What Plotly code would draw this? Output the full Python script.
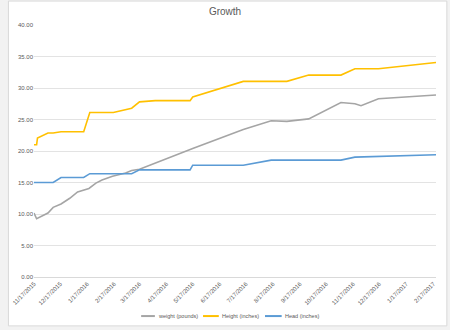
import plotly.graph_objects as go

# Measurement dates and values for each series
weight_dates = ["2015-11-17", "2015-11-20", "2015-12-03", "2015-12-09", "2015-12-18",
                "2015-12-28", "2016-01-06", "2016-01-13", "2016-01-19", "2016-01-27",
                "2016-02-03", "2016-02-15", "2016-03-01", "2016-03-08", "2016-03-17",
                "2016-05-17", "2016-07-14", "2016-08-15", "2016-09-02", "2016-09-27",
                "2016-10-14", "2016-11-03", "2016-11-19", "2016-11-26", "2016-12-16",
                "2017-02-20"]
weight_pounds = [10.15, 9.25, 10.15, 11.05, 11.6,
                 12.5, 13.5, 13.86, 14.06, 14.9,
                 15.4, 16.0, 16.5, 16.9, 17.1,
                 20.4, 23.4, 24.8, 24.7, 25.1,
                 26.3, 27.7, 27.5, 27.2, 28.3,
                 28.9]

height_dates = ["2015-11-17", "2015-11-20", "2015-11-21", "2015-12-03", "2015-12-09",
                "2015-12-18", "2016-01-13", "2016-01-20", "2016-02-16", "2016-03-08",
                "2016-03-17", "2016-04-04", "2016-05-14", "2016-05-17", "2016-07-14",
                "2016-09-02", "2016-09-27", "2016-11-03", "2016-11-19", "2016-12-16",
                "2017-02-20"]
height_inches = [21.0, 21.0, 22.06, 22.86, 22.86,
                 23.06, 23.06, 26.1, 26.1, 26.8,
                 27.8, 28.0, 28.0, 28.57, 31.05,
                 31.05, 32.05, 32.05, 33.05, 33.05,
                 34.05]

head_dates = ["2015-11-17", "2015-12-09", "2015-12-18", "2016-01-13", "2016-01-20",
              "2016-03-08", "2016-03-17", "2016-05-14", "2016-05-17", "2016-07-14",
              "2016-08-15", "2016-11-03", "2016-11-19", "2017-02-20"]
head_inches = [15.0, 15.0, 15.8, 15.8, 16.4,
               16.4, 17.0, 17.0, 17.75, 17.75,
               18.55, 18.55, 19.02, 19.4]

tick_dates = ["2015-11-17", "2015-12-17", "2016-01-17", "2016-02-17", "2016-03-17",
              "2016-04-17", "2016-05-17", "2016-06-17", "2016-07-17", "2016-08-17",
              "2016-09-17", "2016-10-17", "2016-11-17", "2016-12-17", "2017-01-17",
              "2017-02-17"]
tick_labels = ["11/17/2015", "12/17/2015", "1/17/2016", "2/17/2016", "3/17/2016",
               "4/17/2016", "5/17/2016", "6/17/2016", "7/17/2016", "8/17/2016",
               "9/17/2016", "10/17/2016", "11/17/2016", "12/17/2016", "1/17/2017",
               "2/17/2017"]
y_ticks = [0, 5, 10, 15, 20, 25, 30, 35, 40]

series_names = ["weight (pounds)", "Height (inches)", "Head (inches)"]
series_colors = ["#A5A5A5", "#FFC000", "#5B9BD5"]

FONT = "Liberation Sans"
TEXT = "#595959"

fig = go.Figure()
for dates, vals, name, color in zip([weight_dates, height_dates, head_dates],
                                    [weight_pounds, height_inches, head_inches],
                                    series_names, series_colors):
    fig.add_trace(go.Scatter(x=dates, y=vals, mode="lines", name=name,
                             line=dict(color=color, width=1.6), showlegend=False))

# chart-area frame (paper coords relative to the plot area)
fig.add_shape(type="rect", xref="paper", yref="paper",
              x0=-0.0636, x1=1.027, y0=-0.194, y1=1.095,
              fillcolor="white", line=dict(color="#d9d9d9", width=1), layer="below")

# compact legend row under the axis labels
legend_y = -0.155
legend_keys = [(0.2665, 0.3007), (0.4205, 0.4597), (0.5746, 0.6161)]
for (k0, k1), name, color in zip(legend_keys, series_names, series_colors):
    fig.add_shape(type="line", xref="paper", yref="paper",
                  x0=k0, x1=k1, y0=legend_y, y1=legend_y,
                  line=dict(color=color, width=2))
    fig.add_annotation(xref="paper", yref="paper", x=k1 + 0.004, y=legend_y,
                       text=name, showarrow=False, xanchor="left", yanchor="middle",
                       font=dict(family=FONT, size=5.5, color=TEXT))

fig.update_layout(
    width=450, height=330,
    margin=dict(l=27, r=14, t=25, b=53),
    paper_bgcolor="#f2f2f2",
    plot_bgcolor="rgba(0,0,0,0)",
    font=dict(family=FONT, color=TEXT, size=6),
    title=dict(text="Growth", x=0.5, xanchor="center", y=0.965, yanchor="middle",
               font=dict(family=FONT, size=10, color=TEXT)),
    xaxis=dict(type="date", range=["2015-11-17", "2017-02-20"],
               tickvals=tick_dates, ticktext=tick_labels, tickangle=-45,
               showgrid=False, showline=True, linecolor="#d9d9d9", linewidth=1,
               ticks="", tickfont=dict(family=FONT, size=6, color=TEXT)),
    yaxis=dict(range=[0, 40], tickvals=y_ticks, tickformat=".2f",
               showgrid=True, gridcolor="#e3e3e3", gridwidth=1,
               zeroline=False, showline=False, ticks="",
               tickfont=dict(family=FONT, size=6, color=TEXT)),
)

fig.write_html("out.html")
